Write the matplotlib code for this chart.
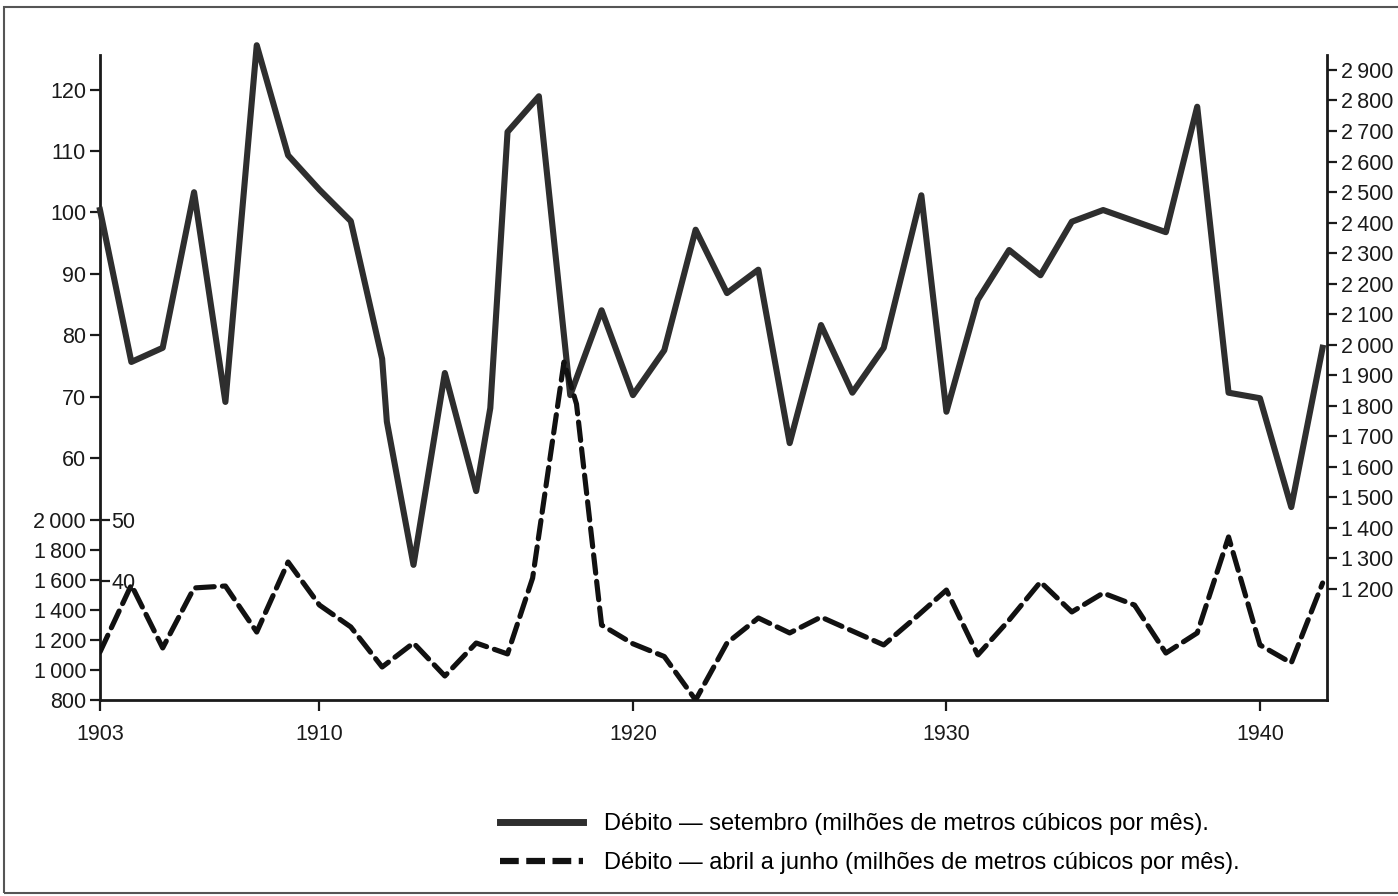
import matplotlib.pyplot as plt
from matplotlib.patches import Rectangle

# Débito — setembro (escala da esquerda, 60-120)
anos_set = [1903, 1904, 1905, 1906, 1907, 1908, 1909, 1910, 1911, 1912, 1912.15,
            1913, 1914, 1915, 1915.45, 1916, 1917, 1918, 1919, 1920, 1921, 1922,
            1923, 1924, 1925, 1926, 1927, 1928, 1929.2, 1930, 1931, 1932, 1933,
            1934, 1935, 1936, 1937, 1938, 1939, 1940, 1941, 1942]
debito_set = [100.4, 75.7, 78.0, 103.3, 69.2, 127.2, 109.3, 103.7, 98.6, 76.2, 66.0,
              42.7, 73.9, 54.7, 68.2, 113.1, 118.9, 70.3, 84.1, 70.3, 77.6, 97.2,
              86.9, 90.7, 62.5, 81.7, 70.7, 78.0, 102.8, 67.6, 85.8, 93.9, 89.8,
              98.5, 100.4, 98.6, 96.8, 117.2, 70.7, 69.8, 52.1, 78.0]

# Débito — abril a junho (escala 800-2000)
anos_abr = [1903, 1904, 1905, 1906, 1907, 1908, 1909, 1910, 1911, 1912, 1913,
            1914, 1915, 1916, 1916.8, 1917.8, 1918.2, 1919, 1920, 1921, 1922,
            1923, 1924, 1925, 1926, 1927, 1928, 1929, 1930, 1931, 1932, 1933,
            1934, 1935, 1936, 1937, 1938, 1939, 1940, 1941, 1942]
debito_abr = [1120, 1567, 1147, 1547, 1560, 1253, 1720, 1433, 1287, 1020, 1180,
              960, 1180, 1107, 1613, 3053, 2773, 1300, 1175, 1090, 800,
              1180, 1347, 1247, 1353, 1260, 1167, 1347, 1533, 1100, 1333, 1587,
              1387, 1513, 1433, 1113, 1247, 1887, 1167, 1047, 1580]

ticks_esq = [60, 70, 80, 90, 100, 110, 120]
ticks_int = [40, 50]
ticks_abr = [800, 1000, 1200, 1400, 1600, 1800, 2000]
ticks_dir = list(range(1200, 3000, 100))
anos_ticks = [1903, 1910, 1920, 1930, 1940]

legenda_set = 'Débito — setembro (milhões de metros cúbicos por mês).'
legenda_abr = 'Débito — abril a junho (milhões de metros cúbicos por mês).'


def milhar(v):
    if v >= 1000:
        return '%d\u2009%03d' % (v // 1000, v % 1000)
    return str(v)


plt.rcParams['font.family'] = ['Liberation Sans', 'DejaVu Sans']
plt.rcParams['font.size'] = 15.5

W, H = 1398, 896
fig = plt.figure(figsize=(W / 100, H / 100), dpi=100)
fig.patches.append(Rectangle((4 / W, 3 / H), 1.2, 1 - 10 / H, transform=fig.transFigure,
                             fill=False, lw=1.5, ec='#555555'))

ax = fig.add_axes([100 / W, 1 - 700 / H, 1227 / W, 645 / H])
ax.set_xlim(1903, 1942.14)
ax.set_ylim(20.73, 125.61)

esp = 2.0
cor = '#1a1a1a'
fs = 15.5

# eixo principal: esquerda 60-120 e anos
ax.plot(anos_set, debito_set, color='#2e2e2e', lw=4.4, solid_joinstyle='round',
        clip_on=False, zorder=5)
ax.set_yticks(ticks_esq)
ax.set_xticks(anos_ticks)
ax.tick_params(axis='both', colors=cor, width=1.6, length=7, labelsize=fs, pad=3)
ax.tick_params(axis='x', length=8, pad=9)
for s in ['top', 'right']:
    ax.spines[s].set_visible(False)
for s in ['left', 'bottom']:
    ax.spines[s].set_linewidth(esp)
    ax.spines[s].set_color(cor)

# escala 800-2000 (abril a junho)
ax_d = ax.twinx()
ax_d.set_ylim(800, 5100)
ax_d.plot(anos_abr, debito_abr, color='#111111', lw=3.7, dashes=(3.6, 1.6),
          dash_capstyle='round', dash_joinstyle='round', zorder=5)
ax_d.yaxis.tick_left()
ax_d.set_yticks(ticks_abr)
ax_d.set_yticklabels([milhar(v) for v in ticks_abr])
ax_d.tick_params(axis='y', colors=cor, width=1.6, length=7, labelsize=fs, pad=3)
for s in ax_d.spines.values():
    s.set_visible(False)

# marcas 40 e 50 do lado de dentro
ax_in = ax.twinx()
ax_in.set_ylim(ax.get_ylim())
ax_in.spines['right'].set_position(('axes', 0))
ax_in.set_yticks(ticks_int)
ax_in.tick_params(axis='y', colors=cor, width=1.6, length=7, labelsize=fs, pad=1)
for s in ax_in.spines.values():
    s.set_visible(False)

# escala da direita
ax_r = ax.twinx()
ax_r.set_ylim(836.4, 2949)
ax_r.set_yticks(ticks_dir)
ax_r.set_yticklabels([milhar(v) for v in ticks_dir])
ax_r.tick_params(axis='y', colors=cor, width=1.6, length=7, labelsize=fs, pad=3)
for s in ['top', 'left', 'bottom']:
    ax_r.spines[s].set_visible(False)
ax_r.spines['right'].set_linewidth(esp)
ax_r.spines['right'].set_color(cor)

h1, = ax.plot([], [], color='#2e2e2e', lw=5)
h2, = ax.plot([], [], color='#111111', lw=4.5, dashes=(3, 1.2))
fig.legend([h1, h2], [legenda_set, legenda_abr], loc='upper left',
           bbox_to_anchor=(500 / W, 1 - 813 / H), frameon=False, fontsize=17,
           handlelength=3.5, handletextpad=0.9, labelspacing=0.72,
           borderpad=0, borderaxespad=0)

fig.savefig('out.png', dpi=100)
